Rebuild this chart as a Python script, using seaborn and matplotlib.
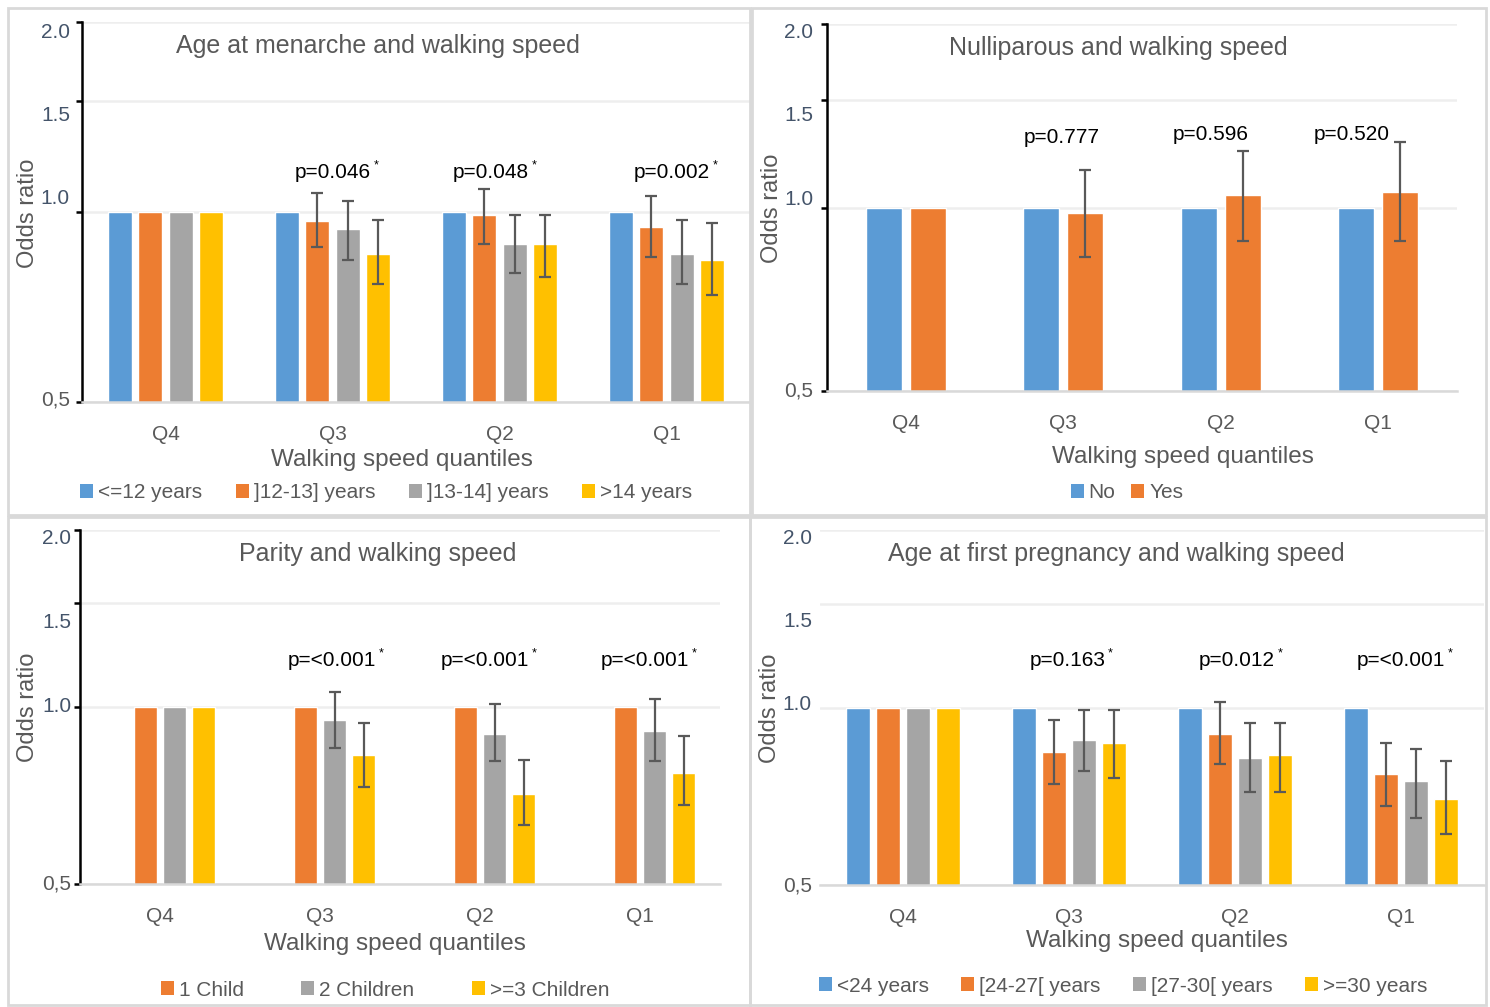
import numpy as np
import pandas as pd
import matplotlib

matplotlib.use("Agg")
import matplotlib.pyplot as plt
from matplotlib.patches import Patch, Rectangle
import seaborn as sns

sns.set_style("white")
plt.rcParams["font.family"] = ["Liberation Sans", "DejaVu Sans"]

W, H = 1490, 1007
nan = np.nan

quantiles = ["Q4", "Q3", "Q2", "Q1"]
yticks = [0.5, 1.0, 1.5, 2.0]
ytick_labels = ["0,5", "1.0", "1.5", "2.0"]

blue, orange, gray, yellow = "#5B9BD5", "#ED7D31", "#A5A5A5", "#FFC000"
text_gray = "#595959"

# Age at menarche (rows = groups, columns = Q4, Q3, Q2, Q1)
menarche_groups = ["<=12 years", "]12-13] years", "]13-14] years", ">14 years"]
menarche_or = [
    [1.0, 1.0, 1.0, 1.0],
    [1.0, 0.969, 0.988, 0.948],
    [1.0, 0.939, 0.889, 0.858],
    [1.0, 0.858, 0.889, 0.839],
]
menarche_lo = [
    [nan, nan, nan, nan],
    [nan, 0.879, 0.889, 0.850],
    [nan, 0.839, 0.800, 0.769],
    [nan, 0.769, 0.790, 0.740],
]
menarche_hi = [
    [nan, nan, nan, nan],
    [nan, 1.070, 1.089, 1.059],
    [nan, 1.040, 0.989, 0.970],
    [nan, 0.971, 0.989, 0.960],
]
menarche_p = ["", "p=0.046", "p=0.048", "p=0.002"]

# Nulliparous
nullip_groups = ["No", "Yes"]
nullip_or = [[1.0, 1.0, 1.0, 1.0], [1.0, 0.980, 1.050, 1.060]]
nullip_lo = [[nan, nan, nan, nan], [nan, 0.830, 0.880, 0.880]]
nullip_hi = [[nan, nan, nan, nan], [nan, 1.151, 1.240, 1.280]]
nullip_p = ["", "p=0.777", "p=0.596", "p=0.520"]

# Parity (first series slot is empty in the source chart)
parity_slots = ["Nulliparous", "1 Child", "2 Children", ">=3 Children"]
parity_groups = ["1 Child", "2 Children", ">=3 Children"]
parity_or = [
    [1.0, 1.0, 1.0, 1.0],
    [1.0, 0.949, 0.901, 0.911],
    [1.0, 0.830, 0.711, 0.771],
]
parity_lo = [
    [nan, nan, nan, nan],
    [nan, 0.851, 0.809, 0.809],
    [nan, 0.732, 0.631, 0.681],
]
parity_hi = [
    [nan, nan, nan, nan],
    [nan, 1.061, 1.011, 1.032],
    [nan, 0.941, 0.811, 0.893],
]
parity_p = ["", "p=<0.001", "p=<0.001", "p=<0.001"]

# Age at first pregnancy
preg_groups = ["<24 years", "[24-27[ years", "[27-30[ years", ">=30 years"]
preg_or = [
    [1.0, 1.0, 1.0, 1.0],
    [1.0, 0.839, 0.901, 0.770],
    [1.0, 0.880, 0.820, 0.750],
    [1.0, 0.870, 0.830, 0.699],
]
preg_lo = [
    [nan, nan, nan, nan],
    [nan, 0.741, 0.801, 0.680],
    [nan, 0.780, 0.720, 0.650],
    [nan, 0.760, 0.720, 0.610],
]
preg_hi = [
    [nan, nan, nan, nan],
    [nan, 0.951, 1.020, 0.870],
    [nan, 0.991, 0.941, 0.850],
    [nan, 0.991, 0.941, 0.811],
]
preg_p = ["", "p=0.163", "p=0.012", "p=<0.001"]

fig = plt.figure(figsize=(W / 100, H / 100), dpi=100)


def px_rect(left, top, right, bottom):
    return [left / W, 1 - bottom / H, (right - left) / W, (bottom - top) / H]


def ftext(x, y, s, **kw):
    return fig.text(x / W, 1 - y / H, s, **kw)


def draw_panel(rect, groups, slot_colors, odds, lo, hi, slots=None, width=0.725,
               gap=0.2, spine=True, label_dy=(0, 0, 0, 0), label_gap=10):
    slots = slots or groups
    ax = fig.add_axes(rect)
    rows = []
    for g, vals in zip(groups, odds):
        for q, v in zip(quantiles, vals):
            rows.append({"quantile": q, "group": g, "odds": v})
    df = pd.DataFrame(rows)
    sns.barplot(data=df, x="quantile", y="odds", hue="group", order=quantiles,
                hue_order=slots, palette=dict(zip(slots, slot_colors)), width=width,
                gap=gap, saturation=1, errorbar=None, legend=False, ax=ax, zorder=2)

    # confidence intervals on the dodged bars
    n = len(slots)
    for g, o, l, h in zip(groups, odds, lo, hi):
        j = slots.index(g)
        offset = width / n * (j + 0.5) - width / 2
        x = np.arange(len(quantiles)) + offset
        o, l, h = np.array(o), np.array(l), np.array(h)
        ok = ~np.isnan(l)
        if ok.any():
            ax.errorbar(x[ok], o[ok], yerr=[o[ok] - l[ok], h[ok] - o[ok]], fmt="none",
                        ecolor="#595959", elinewidth=1.6, capsize=4.5, capthick=1.6,
                        zorder=3)

    ax.set_xlim(-0.5, len(quantiles) - 0.5)
    ax.set_yscale("log", base=2)
    ax.set_ylim(0.5, 2.0)
    ax.set_yticks(yticks)
    ax.set_yticks([], minor=True)
    ax.set_yticklabels([])
    ax.grid(axis="y", color="#EEEEEE", lw=1.8)
    ax.set_axisbelow(True)
    ax.set_xlabel("")
    ax.set_ylabel("")
    ax.tick_params(axis="x", length=0, pad=16.5, labelsize=15, labelcolor=text_gray)
    for s in ["top", "right"]:
        ax.spines[s].set_visible(False)
    ax.spines["bottom"].set_color("#D9D9D9")
    ax.spines["bottom"].set_linewidth(1.8)
    if spine:
        ax.spines["left"].set_color("black")
        ax.spines["left"].set_linewidth(1.8)
        ax.tick_params(axis="y", left=True, direction="out", length=4, width=1.8,
                       color="black")
    else:
        ax.spines["left"].set_visible(False)
        ax.tick_params(axis="y", length=0)

    # y tick labels, nudged like in the source chart
    for v, lab, dy in zip(yticks, ytick_labels, label_dy):
        c = text_gray if v == 0.5 else "#44546A"
        ax.annotate(lab, xy=(0, v), xycoords=("axes fraction", "data"),
                    xytext=(-label_gap * 0.72, dy * 0.72), textcoords="offset points",
                    ha="right", va="center", fontsize=15, color=c,
                    annotation_clip=False)
    return ax


def add_pvalues(ax, labels, y, dx, star):
    for i, (lab, yy, d) in enumerate(zip(labels, y, dx)):
        if not lab:
            continue
        t = ax.text(i + d, yy, lab, ha="center", va="center", fontsize=15, color="black")
        if star:
            ax.annotate("*", xy=(1, 0.85), xycoords=t, xytext=(2, 0),
                        textcoords="offset points", ha="left", va="center",
                        fontsize=9, color="black")


def add_legend(groups, colors, x, y, spacing):
    handles = [Patch(facecolor=c, edgecolor="none") for c in colors]
    fig.legend(handles, groups, loc="center", bbox_to_anchor=(x / W, 1 - y / H),
               ncol=len(groups), frameon=False, fontsize=15, handlelength=0.62,
               handleheight=0.62, handletextpad=0.25, columnspacing=spacing,
               labelcolor=text_gray, borderaxespad=0, borderpad=0)


# panel frames
for l, t, r, b in [(8, 8, 750, 515), (752, 8, 1486, 515),
                   (8, 517, 750, 1005), (750, 517, 1486, 1005)]:
    fig.add_artist(Rectangle((l / W, 1 - b / H), (r - l) / W, (b - t) / H,
                             transform=fig.transFigure, fill=False,
                             edgecolor="#D9D9D9", lw=2))

# Panel 1: age at menarche
ax1 = draw_panel(px_rect(82, 22, 750, 402), menarche_groups,
                 [blue, orange, gray, yellow], menarche_or, menarche_lo, menarche_hi,
                 label_dy=(2, 14, -15, -10), label_gap=12)
add_pvalues(ax1, menarche_p, [0, 1.157, 1.157, 1.157], [0, 0, -0.05, 0.03], True)
ftext(378, 46, "Age at menarche and walking speed", ha="center", va="center",
      fontsize=18, color=text_gray)
ftext(402, 460, "Walking speed quantiles", ha="center", va="center", fontsize=17.5,
      color=text_gray)
ftext(28, 213, "Odds ratio", ha="center", va="center", rotation=90, fontsize=17,
      color=text_gray)
add_legend(menarche_groups, [blue, orange, gray, yellow], 386, 493, 1.6)

# Panel 2: nulliparous
ax2 = draw_panel(px_rect(827, 24, 1457, 391), nullip_groups, [blue, orange],
                 nullip_or, nullip_lo, nullip_hi, width=0.56, gap=0.18,
                 label_dy=(0, 8, -15, -8), label_gap=14)
add_pvalues(ax2, nullip_p, [0, 1.302, 1.318, 1.318], [0, -0.013, -0.063, -0.17], False)
ftext(1118, 48, "Nulliparous and walking speed", ha="center", va="center",
      fontsize=18, color=text_gray)
ftext(1183, 457, "Walking speed quantiles", ha="center", va="center", fontsize=17.5,
      color=text_gray)
ftext(772, 208, "Odds ratio", ha="center", va="center", rotation=90, fontsize=17,
      color=text_gray)
add_legend(nullip_groups, [blue, orange], 1127, 493, 0.75)

# Panel 3: parity (empty first slot keeps the bars shifted right)
ax3 = draw_panel(px_rect(80, 530, 720, 884), parity_groups,
                 [blue, orange, gray, yellow], parity_or, parity_lo, parity_hi,
                 slots=parity_slots, label_dy=(0, 0, -19, -9), label_gap=9)
add_pvalues(ax3, parity_p, [0, 1.20, 1.20, 1.20], [0, 0.075, 0.03, 0.03], True)
ftext(378, 554, "Parity and walking speed", ha="center", va="center",
      fontsize=18, color=text_gray)
ftext(395, 944, "Walking speed quantiles", ha="center", va="center", fontsize=17.5,
      color=text_gray)
ftext(28, 707, "Odds ratio", ha="center", va="center", rotation=90, fontsize=17,
      color=text_gray)
add_legend(parity_groups, [orange, gray, yellow], 385, 990, 2.75)

# Panel 4: age at first pregnancy
ax4 = draw_panel(px_rect(820, 530, 1484, 885), preg_groups,
                 [blue, orange, gray, yellow], preg_or, preg_lo, preg_hi,
                 spine=False, label_dy=(-1, 3, -18, -9), label_gap=8)
add_pvalues(ax4, preg_p, [0, 1.203, 1.203, 1.203], [0, -0.01, 0.01, 0.0], True)
ftext(1116, 554, "Age at first pregnancy and walking speed", ha="center",
      va="center", fontsize=18, color=text_gray)
ftext(1157, 941, "Walking speed quantiles", ha="center", va="center", fontsize=17.5,
      color=text_gray)
ftext(770, 708, "Odds ratio", ha="center", va="center", rotation=90, fontsize=17,
      color=text_gray)
add_legend(preg_groups, [blue, orange, gray, yellow], 1123, 986, 1.55)

fig.savefig("out.png", dpi=100)
